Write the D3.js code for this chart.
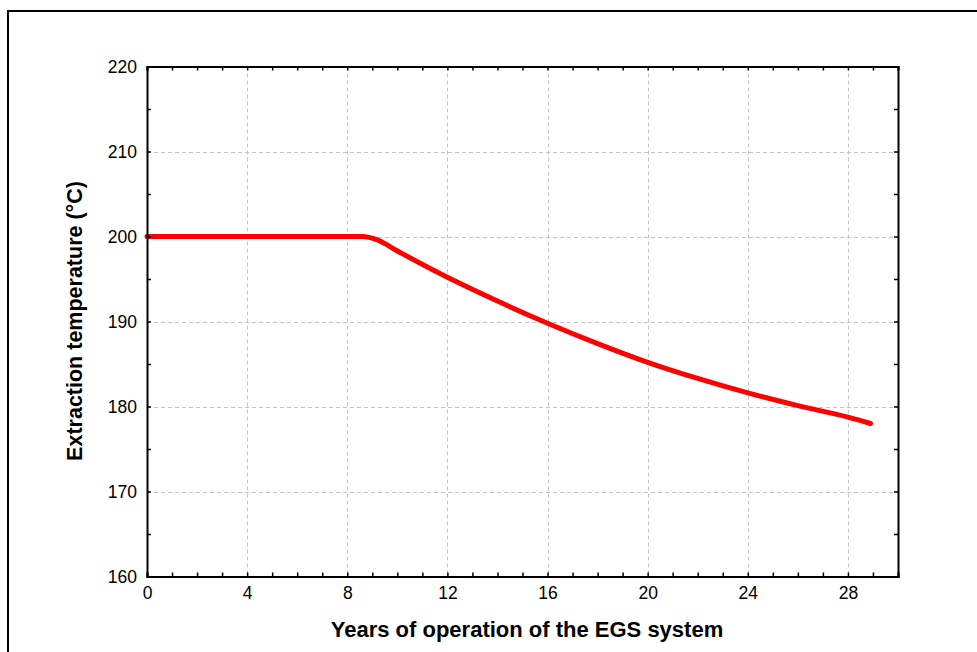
<!DOCTYPE html>
<html><head><meta charset="utf-8">
<script src="https://cdn.jsdelivr.net/npm/d3@7"></script>
<style>body{margin:0;background:#fff;}svg{display:block;font-family:"Liberation Sans",Arial,sans-serif;}</style>
</head><body>
<svg id="chart" width="977" height="652"></svg>
<script>
const years = [0, 8.6, 9.2, 10, 12, 14, 16, 18, 20, 22, 24, 26, 28, 28.9];
const temperature = [200, 200, 199.6, 198.3, 195.2, 192.4, 189.8, 187.4, 185.2, 183.3, 181.6, 180.1, 178.75, 178.0];
const xTicks = [0, 4, 8, 12, 16, 20, 24, 28];
const yTicks = [160, 170, 180, 190, 200, 210, 220];
const xTitle = "Years of operation of the EGS system";
const yTitle = "Extraction temperature (°C)";

const svg = d3.select("#chart");
const L = 147, T = 66.5, R = 898, B = 576.5;
const x = d3.scaleLinear().domain([0, 30]).range([L, R]);
const y = d3.scaleLinear().domain([160, 220]).range([B, T]);

// outer frame
svg.append("path").attr("d", `M8,660 V11 H990`).attr("fill", "none").attr("stroke", "#000").attr("stroke-width", 2);

// grid
const g = svg.append("g");
g.selectAll(".vg").data(xTicks.filter(d => d > 0)).join("line")
  .attr("x1", d => Math.round(x(d)) + 0.5).attr("x2", d => Math.round(x(d)) + 0.5)
  .attr("y1", T).attr("y2", B)
  .attr("stroke", "#c4c4c4").attr("stroke-width", 1).attr("stroke-dasharray", "4,3");
g.selectAll(".hg").data(yTicks.filter(d => d > 160 && d < 220)).join("line")
  .attr("y1", d => Math.round(y(d)) + 0.5).attr("y2", d => Math.round(y(d)) + 0.5)
  .attr("x1", L).attr("x2", R)
  .attr("stroke", "#c4c4c4").attr("stroke-width", 1).attr("stroke-dasharray", "4,3");

// data line
const line = d3.line().x((d, i) => x(years[i])).y((d, i) => y(temperature[i])).curve(d3.curveMonotoneX);
svg.append("path").datum(temperature).attr("d", line)
  .attr("fill", "none").attr("stroke", "#ff0000").attr("stroke-width", 5)
  .attr("stroke-linecap", "round").attr("stroke-linejoin", "round");

// axes (ticks inward)
const minorX = d3.range(0, 31, 1);
const minorY = d3.range(160, 221, 5);
const axB = d3.axisBottom(x).tickValues(minorX).tickSize(-4).tickFormat(d => xTicks.includes(d) ? d : "").tickPadding(10);
const axT = d3.axisTop(x).tickValues(minorX).tickSize(-4).tickFormat("");
const axL = d3.axisLeft(y).tickValues(minorY).tickSize(-4).tickFormat(d => yTicks.includes(d) ? d : "").tickPadding(10);
const axR = d3.axisRight(y).tickValues(minorY).tickSize(-4).tickFormat("");
function style(sel) {
  sel.select(".domain").attr("stroke", "#000").attr("stroke-width", 2);
  sel.selectAll(".tick line").attr("stroke", "#000").attr("stroke-width", 1.5);
  sel.selectAll("text").attr("font-size", 17.5).attr("fill", "#000").attr("font-family", "Liberation Sans, Arial, sans-serif");
}
svg.append("g").attr("transform", `translate(0,${B})`).call(axB).call(style);
svg.append("g").attr("transform", `translate(0,${T})`).call(axT).call(style);
svg.append("g").attr("transform", `translate(${L},0)`).call(axL).call(style);
svg.append("g").attr("transform", `translate(${R},0)`).call(axR).call(style);

// titles
svg.append("text").attr("x", 527).attr("y", 637).attr("text-anchor", "middle")
  .attr("font-size", 22).attr("font-weight", "bold").text(xTitle);
svg.append("text").attr("transform", `translate(82,321) rotate(-90)`).attr("text-anchor", "middle")
  .attr("font-size", 21.5).attr("font-weight", "bold").text(yTitle);
</script>
</body></html>
